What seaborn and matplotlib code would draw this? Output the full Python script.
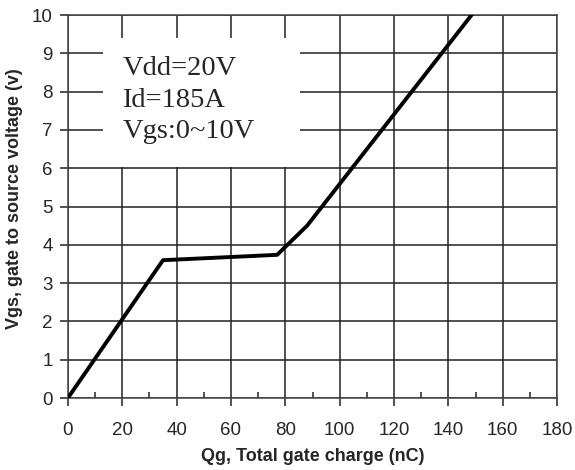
import pandas as pd
import matplotlib
matplotlib.use("Agg")
import matplotlib.pyplot as plt
from matplotlib.patches import Rectangle
from matplotlib.ticker import MultipleLocator
import seaborn as sns

# gate charge curve
qg = [0, 35, 77, 88, 148.5]
vgs = [0, 3.6, 3.74, 4.5, 10]

notes = ["Vdd=20V", "Id=185A", "Vgs:0~10V"]

df = pd.DataFrame({"Qg": qg, "Vgs": vgs})

sns.set_style("ticks")
plt.rcParams["font.family"] = ["Liberation Sans", "DejaVu Sans"]

fig = plt.figure(figsize=(5.75, 4.7), dpi=100)
ax = fig.add_axes([0.118, 0.153, 0.851, 0.815])

ax.set_xlim(0, 180)
ax.set_ylim(0, 10)
ax.xaxis.set_major_locator(MultipleLocator(20))
ax.xaxis.set_minor_locator(MultipleLocator(10))
ax.yaxis.set_major_locator(MultipleLocator(1))
ax.grid(True, which="major", color="#222222", linewidth=1.1)
ax.set_axisbelow(True)

# white box behind the test conditions
ax.add_patch(Rectangle((12.9, 6.04), 72.5, 3.36, facecolor="white",
                       edgecolor="none", zorder=1))

sns.lineplot(data=df, x="Qg", y="Vgs", color="black", linewidth=2.8, ax=ax,
             zorder=3)

for i, t in enumerate(notes):
    ax.text(20, 8.43 - i * 0.82, t, fontsize=20.5, family="Liberation Serif",
            zorder=4)

ax.tick_params(axis="both", which="major", direction="out", length=6,
               width=1.1, color="#222222", labelsize=13.5)
ax.tick_params(axis="x", which="major", pad=11)
ax.tick_params(axis="y", which="major", pad=5)
ax.tick_params(axis="x", which="minor", direction="in", length=4,
               width=1.1, color="#222222")
for s in ax.spines.values():
    s.set_color("#444444")
    s.set_linewidth(1.1)

ax.set_xlabel("Qg, Total gate charge (nC)", fontsize=13, fontweight="bold",
              labelpad=7)
ax.set_ylabel("Vgs, gate to source voltage (v)", fontsize=13,
              fontweight="bold")
ax.yaxis.set_label_coords(-0.092, 0.52)

fig.savefig("out.png", dpi=100)
